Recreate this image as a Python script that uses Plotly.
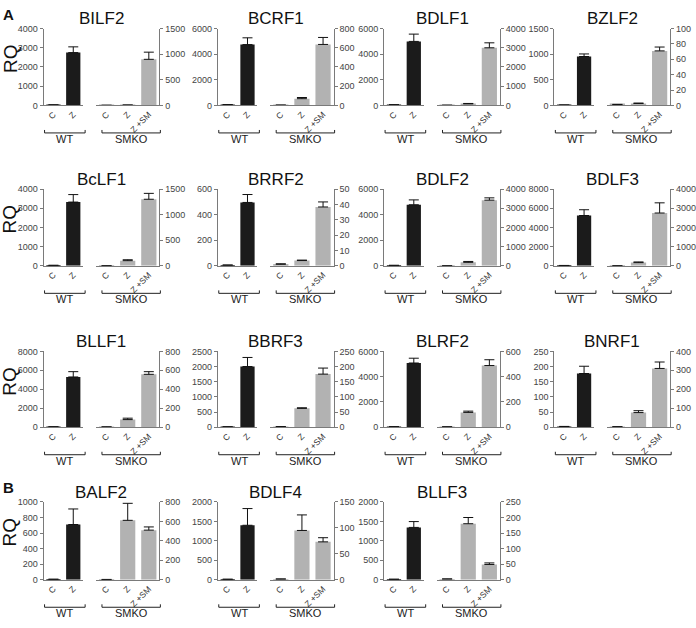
import plotly.graph_objects as go

# ---------------- data ----------------
genes = ["BILF2", "BCRF1", "BDLF1", "BZLF2",
         "BcLF1", "BRRF2", "BDLF2", "BDLF3",
         "BLLF1", "BBRF3", "BLRF2", "BNRF1",
         "BALF2", "BDLF4", "BLLF3"]

wt_cats = ["C", "Z"]
smko_cats = ["C", "Z", "Z +SM"]

wt_vals = [[20, 2750], [50, 4750], [40, 5000], [5, 955],
           [20, 3320], [5, 495], [30, 4770], [30, 5240],
           [30, 5300], [10, 2000], [30, 5080], [2, 177],
           [5, 710], [10, 1400], [10, 1345]]
wt_err = [[5, 300], [10, 530], [10, 570], [1, 50],
          [5, 390], [1, 62], [5, 380], [5, 600],
          [5, 560], [2, 300], [5, 380], [0.5, 24],
          [1, 200], [2, 430], [2, 150]]

smko_vals = [[1, 5, 900], [2, 70, 635], [5, 80, 3000], [1, 2.5, 71],
             [2, 100, 1300], [1, 3.4, 38.3], [5, 180, 3420], [5, 165, 2750],
             [2, 80, 558], [1.5, 62, 175], [2, 117, 488], [2, 77, 310],
             [2, 611, 510], [1, 95, 73], [2, 180, 49]]
smko_err = [[0.5, 2, 140], [1, 12, 73], [2, 20, 260], [0.3, 0.5, 5],
            [1, 18, 115], [0.3, 0.3, 3.3], [2, 45, 120], [2, 35, 530],
            [1, 15, 28], [0.5, 2, 20], [1, 10, 46], [0.5, 10, 34],
            [1, 175, 33], [0.5, 30, 8], [0.5, 20, 5]]

wt_max = [4000, 6000, 6000, 1500, 4000, 600, 6000, 8000,
          8000, 2500, 6000, 250, 1000, 2000, 2000]
wt_dtick = [1000, 2000, 2000, 500, 1000, 200, 2000, 2000,
            2000, 500, 2000, 50, 200, 500, 500]
smko_max = [1500, 800, 4000, 100, 1500, 50, 4000, 4000,
            800, 250, 600, 400, 800, 150, 250]
smko_dtick = [500, 200, 1000, 20, 500, 10, 1000, 1000,
              200, 50, 200, 100, 200, 50, 50]

# ---------------- layout geometry (pixels) ----------------
W, H = 696, 628
COL_L = [44, 220, 388, 560]
ROWS = [(24, 102), (187, 265), (352, 429), (505, 584)]  # (top, zero)

def px(x):
    return x / W

def py(y):
    return 1 - y / H

FONT = "Liberation Sans, Arial, Helvetica, sans-serif"
AXCOL = "#7a7a7a"

fig = go.Figure()
layout = {}
shapes = []
annotations = []

for i, g in enumerate(genes):
    r, c = divmod(i, 4)
    L = COL_L[c]
    top, zero = ROWS[r]
    kw = 2 * i + 1
    ks = 2 * i + 2
    for k, cats, vals, err, color, ymax, dt, x0, x1, side in [
        (kw, wt_cats, wt_vals[i], wt_err[i], "#1b1b1b", wt_max[i], wt_dtick[i], L, L + 40, "left"),
        (ks, smko_cats, smko_vals[i], smko_err[i], "#b2b2b2", smko_max[i], smko_dtick[i], L + 53, L + 117, "right"),
    ]:
        xn = "x" if k == 1 else f"x{k}"
        yn = "y" if k == 1 else f"y{k}"
        fig.add_trace(go.Bar(
            x=cats, y=vals, xaxis=xn, yaxis=yn,
            marker=dict(color=color, line=dict(width=0)),
            error_y=dict(type="data", array=err, arrayminus=[0] * len(err),
                         symmetric=False, color="#111111", thickness=1, width=5),
            showlegend=False, hoverinfo="skip",
        ))
        layout["xaxis" if k == 1 else f"xaxis{k}"] = dict(
            domain=[px(x0), px(x1)], anchor=yn, type="category",
            showline=True, linecolor=AXCOL, linewidth=1, ticks="",
            tickangle=-45, tickfont=dict(size=8.5, color="#333333", family=FONT),
            showgrid=False, zeroline=False, fixedrange=True,
        )
        layout["yaxis" if k == 1 else f"yaxis{k}"] = dict(
            domain=[py(zero), py(top)], anchor=xn, side=side,
            range=[0, ymax], tick0=0, dtick=dt,
            showline=True, linecolor=AXCOL, linewidth=1,
            ticks="outside", ticklen=3, tickcolor=AXCOL,
            tickfont=dict(size=9, color="#444444", family=FONT),
            showgrid=False, zeroline=False, fixedrange=True,
        )
    # title
    annotations.append(dict(
        text=g, x=px(L + 58.5), y=py(top - 10), xref="paper", yref="paper",
        xanchor="center", yanchor="middle", showarrow=False,
        font=dict(size=17, color="#111111", family=FONT),
    ))
    # brackets
    by = zero + 28
    for bx0, bx1, lab in [(L + 1, L + 42, "WT"), (L + 59, L + 118, "SMKO")]:
        shapes.append(dict(
            type="path", xref="paper", yref="paper",
            path=f"M {px(bx0)},{py(by - 3)} L {px(bx0)},{py(by)} L {px(bx1)},{py(by)} L {px(bx1)},{py(by - 3)}",
            line=dict(color="#222222", width=1),
        ))
        annotations.append(dict(
            text=lab, x=px((bx0 + bx1) / 2), y=py(by + 6), xref="paper", yref="paper",
            xanchor="center", yanchor="middle", showarrow=False,
            font=dict(size=11, color="#222222", family=FONT),
        ))

# RQ labels
for top, zero in ROWS:
    annotations.append(dict(
        text="RQ", x=px(10), y=py(top + 30), xref="paper", yref="paper",
        xanchor="center", yanchor="middle", showarrow=False, textangle=-90,
        font=dict(size=19, color="#111111", family=FONT),
    ))

# panel letters
for lab, yy in [("A", 10), ("B", 490)]:
    annotations.append(dict(
        text=f"<b>{lab}</b>", x=px(9), y=py(yy), xref="paper", yref="paper",
        xanchor="center", yanchor="middle", showarrow=False,
        font=dict(size=15, color="#111111", family=FONT),
    ))

fig.update_layout(
    width=W, height=H, margin=dict(l=0, r=0, t=0, b=0),
    paper_bgcolor="white", plot_bgcolor="white",
    bargap=0.28, shapes=shapes, annotations=annotations,
    font=dict(family=FONT),
    **layout,
)

fig.write_html("out.html",
               config={"displayModeBar": False},
               post_script="document.body.style.margin='0px';document.body.style.overflow='hidden';")
